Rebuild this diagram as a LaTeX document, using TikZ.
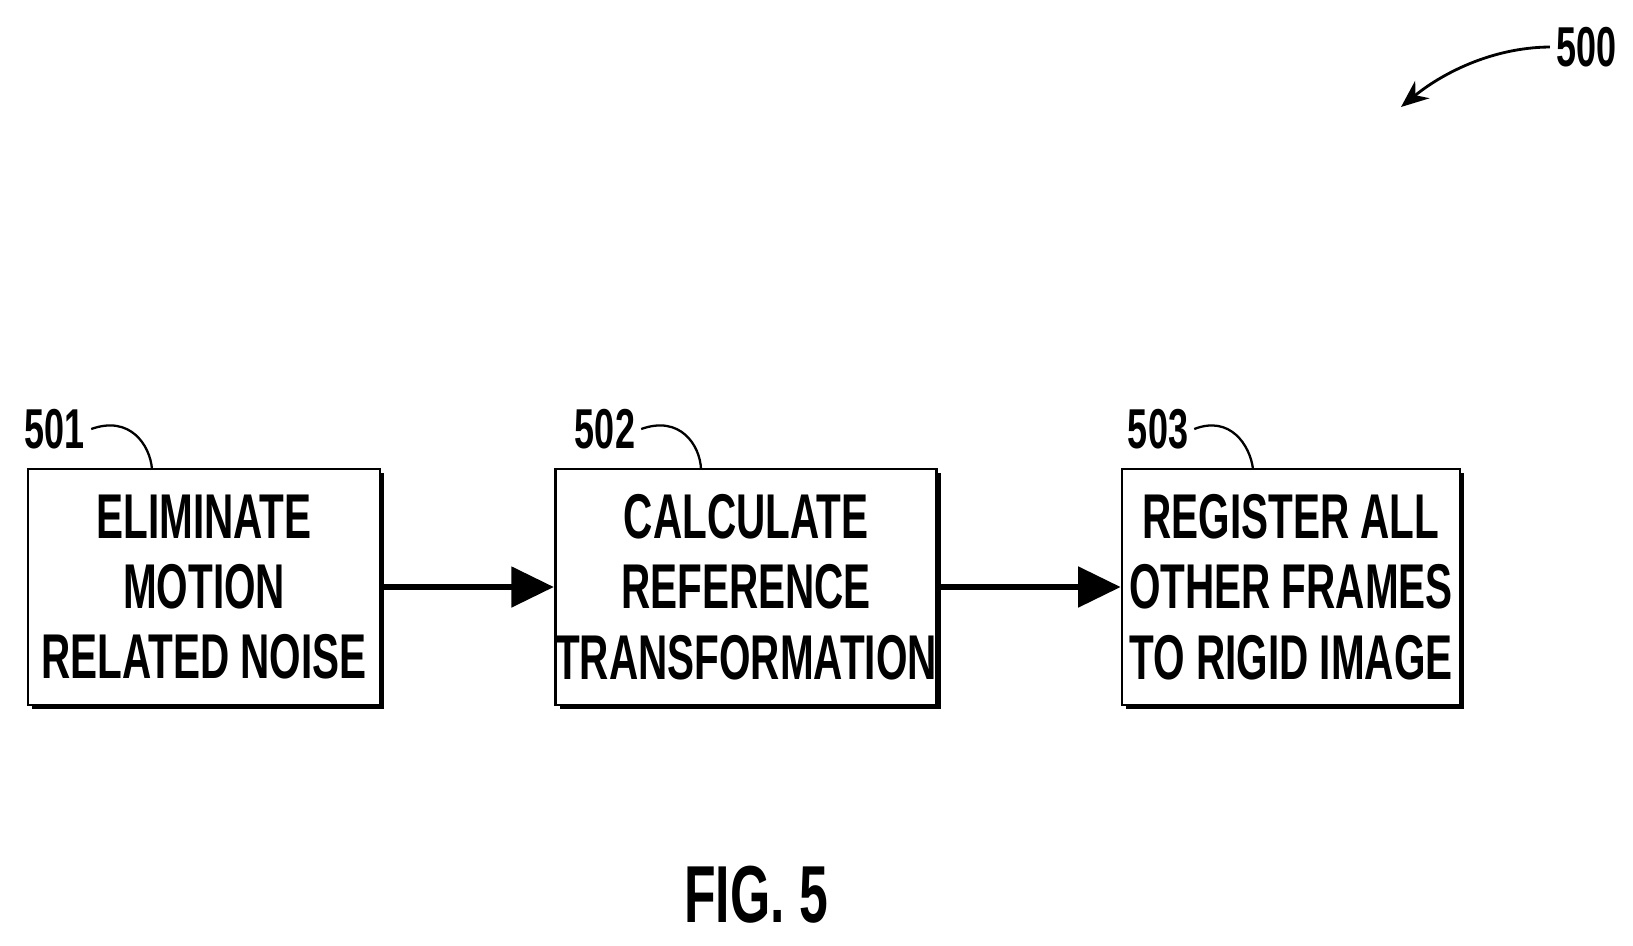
\documentclass[tikz,border=0pt]{standalone}
\usepackage{fontspec}
\setmainfont{Liberation Sans}[BoldFeatures={FakeStretch=0.64},UprightFeatures={FakeStretch=0.64}]
\usetikzlibrary{positioning, arrows.meta, shadows}

\tikzset{
  stage/.style={draw, line width=1.6pt, fill=white, align=center, inner sep=0pt,
    minimum height=4.72cm, font=\fontsize{36}{40}\selectfont\bfseries,
    drop shadow={opacity=1, fill=black, shadow xshift=2.5pt, shadow yshift=-2.5pt}},
  ref/.style={font=\fontsize{32}{34}\selectfont\bfseries},
  flow/.style={line width=3pt, -{Triangle[length=0.85cm, width=0.8cm]}},
  lead/.style={line width=1.3pt}
}

\begin{document}
\begin{tikzpicture}
\useasboundingbox (0,0) rectangle (32.66,-18.9);
% stages
\node[stage, minimum width=7.04cm] (b1) at (4.08,-11.74) {ELIMINATE\\MOTION\\RELATED NOISE};
\node[stage, minimum width=7.36cm] (b2) at (14.92,-11.74) {CALCULATE\\REFERENCE\\TRANSFORMATION};
\node[stage, minimum width=6.76cm] (b3) at (25.82,-11.74) {REGISTER ALL\\OTHER FRAMES\\TO RIGID IMAGE};
\draw[flow] (b1) -- (b2);
\draw[flow] (b2) -- (b3);
% reference numerals
\node[ref] (l501) at (1.1,-8.58) {501};
\node[ref] (l502) at (12.1,-8.58) {502};
\node[ref] (l503) at (23.16,-8.58) {503};
\coordinate (c1) at (3.04,-9.38);
\coordinate (c2) at (14.02,-9.38);
\coordinate (c3) at (25.06,-9.38);
\draw[lead] (l501.east) .. controls (2.6,-8.3) and (3.0,-8.9) .. (c1);
\draw[lead] (l502.east) .. controls (13.6,-8.3) and (14.0,-8.9) .. (c2);
\draw[lead] (l503.east) .. controls (24.6,-8.3) and (25.0,-8.9) .. (c3);
\node[ref] (l500) at (31.72,-0.94) {500};
\coordinate (t500) at (28.02,-2.14);
\draw[line width=1.6pt, -{Stealth[length=0.55cm, width=0.45cm]}] (l500.west) .. controls (29.8,-0.95) and (28.8,-1.5) .. (t500);
\node[font=\fontsize{46}{50}\selectfont\bfseries] (fig) at (15.12,-17.9) {FIG. 5};
\end{tikzpicture}
\end{document}
